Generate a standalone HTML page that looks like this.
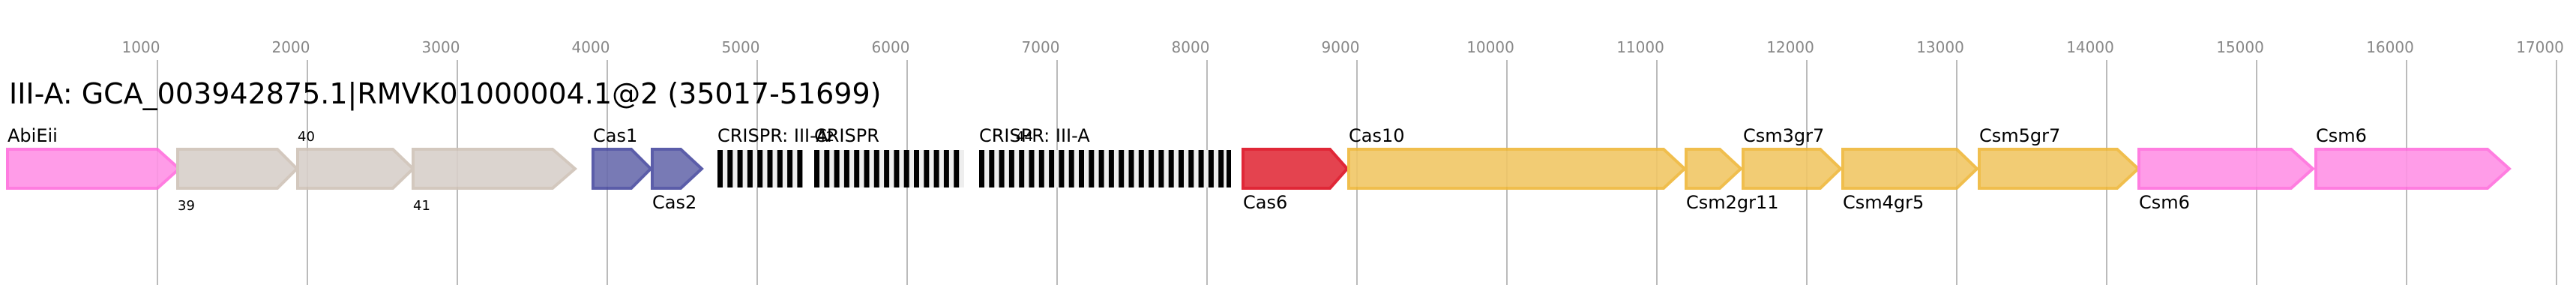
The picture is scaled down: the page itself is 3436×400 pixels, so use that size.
<!DOCTYPE html>
<html><head><meta charset="utf-8"><style>
html,body{margin:0;padding:0;background:#fff;}
svg{display:block;}
text{font-family:"DejaVu Sans","Liberation Sans",sans-serif;}
</style></head><body>
<svg width="3436" height="400" xmlns="http://www.w3.org/2000/svg">
<g stroke="#bbb" stroke-width="2">
<line x1="210" y1="80" x2="210" y2="380"/><line x1="410" y1="80" x2="410" y2="380"/><line x1="610" y1="80" x2="610" y2="380"/><line x1="810" y1="80" x2="810" y2="380"/><line x1="1010" y1="80" x2="1010" y2="380"/><line x1="1210" y1="80" x2="1210" y2="380"/><line x1="1410" y1="80" x2="1410" y2="380"/><line x1="1610" y1="80" x2="1610" y2="380"/><line x1="1810" y1="80" x2="1810" y2="380"/><line x1="2010" y1="80" x2="2010" y2="380"/><line x1="2210" y1="80" x2="2210" y2="380"/><line x1="2410" y1="80" x2="2410" y2="380"/><line x1="2610" y1="80" x2="2610" y2="380"/><line x1="2810" y1="80" x2="2810" y2="380"/><line x1="3010" y1="80" x2="3010" y2="380"/><line x1="3210" y1="80" x2="3210" y2="380"/><line x1="3410" y1="80" x2="3410" y2="380"/>
</g>
<g fill="#888" font-size="20" text-anchor="middle">
<text x="188" y="70">1000</text><text x="388" y="70">2000</text><text x="588" y="70">3000</text><text x="788" y="70">4000</text><text x="988" y="70">5000</text><text x="1188" y="70">6000</text><text x="1388" y="70">7000</text><text x="1588" y="70">8000</text><text x="1788" y="70">9000</text><text x="1988" y="70">10000</text><text x="2188" y="70">11000</text><text x="2388" y="70">12000</text><text x="2588" y="70">13000</text><text x="2788" y="70">14000</text><text x="2988" y="70">15000</text><text x="3188" y="70">16000</text><text x="3388" y="70">17000</text>
</g>
<text x="12" y="138" font-size="38" fill="#000">III-A: GCA_003942875.1|RMVK01000004.1@2 (35017-51699)</text>
<g stroke-width="4" opacity="0.9">
<polygon points="10,199 210,199 239,225 210,251 10,251" fill="#ff92e6" stroke="#ff70dd"/>
<polygon points="237,199 370,199 396,225 370,251 237,251" fill="#d8d0ca" stroke="#cfc3b8"/>
<polygon points="397,199 524,199 551,225 524,251 397,251" fill="#d8d0ca" stroke="#cfc3b8"/>
<polygon points="551,199 737,199 767,225 737,251 551,251" fill="#d8d0ca" stroke="#cfc3b8"/>
<polygon points="791,199 842,199 868,225 842,251 791,251" fill="#6a6cad" stroke="#4a4ca0"/>
<polygon points="870,199 908,199 936,225 908,251 870,251" fill="#6a6cad" stroke="#4a4ca0"/>
<polygon points="1658,199 1774,199 1797,225 1774,251 1658,251" fill="#e22f3d" stroke="#dd1022"/>
<polygon points="1799,199 2219,199 2247,225 2219,251 1799,251" fill="#f1c766" stroke="#efb83a"/>
<polygon points="2249,199 2294,199 2322,225 2294,251 2249,251" fill="#f1c766" stroke="#efb83a"/>
<polygon points="2325,199 2428,199 2455,225 2428,251 2325,251" fill="#f1c766" stroke="#efb83a"/>
<polygon points="2458,199 2610,199 2637,225 2610,251 2458,251" fill="#f1c766" stroke="#efb83a"/>
<polygon points="2640,199 2824,199 2852,225 2824,251 2640,251" fill="#f1c766" stroke="#efb83a"/>
<polygon points="2853,199 3056,199 3085,225 3056,251 2853,251" fill="#ff92e6" stroke="#ff70dd"/>
<polygon points="3089,199 3318,199 3347,225 3318,251 3089,251" fill="#ff92e6" stroke="#ff70dd"/>
</g>
<g fill="#eee"><rect x="957" y="200" width="112" height="50"/><rect x="1086" y="200" width="200" height="50"/><rect x="1306" y="200" width="336" height="50"/></g>
<g fill="#000">
<rect x="957" y="200" width="7" height="50"/><rect x="970.3" y="200" width="7" height="50"/><rect x="983.6" y="200" width="7" height="50"/><rect x="996.9" y="200" width="7" height="50"/><rect x="1010.2" y="200" width="7" height="50"/><rect x="1023.5" y="200" width="7" height="50"/><rect x="1036.8" y="200" width="7" height="50"/><rect x="1050.1" y="200" width="7" height="50"/><rect x="1063.4" y="200" width="7" height="50"/>
<rect x="1086" y="200" width="7" height="50"/><rect x="1099.3" y="200" width="7" height="50"/><rect x="1112.6" y="200" width="7" height="50"/><rect x="1125.9" y="200" width="7" height="50"/><rect x="1139.2" y="200" width="7" height="50"/><rect x="1152.5" y="200" width="7" height="50"/><rect x="1165.8" y="200" width="7" height="50"/><rect x="1179.1" y="200" width="7" height="50"/><rect x="1192.4" y="200" width="7" height="50"/><rect x="1205.7" y="200" width="7" height="50"/><rect x="1219" y="200" width="7" height="50"/><rect x="1232.3" y="200" width="7" height="50"/><rect x="1245.6" y="200" width="7" height="50"/><rect x="1258.9" y="200" width="7" height="50"/><rect x="1272.2" y="200" width="7" height="50"/>
<rect x="1306" y="200" width="7" height="50"/><rect x="1319.3" y="200" width="7" height="50"/><rect x="1332.6" y="200" width="7" height="50"/><rect x="1345.9" y="200" width="7" height="50"/><rect x="1359.2" y="200" width="7" height="50"/><rect x="1372.5" y="200" width="7" height="50"/><rect x="1385.8" y="200" width="7" height="50"/><rect x="1399.1" y="200" width="7" height="50"/><rect x="1412.4" y="200" width="7" height="50"/><rect x="1425.7" y="200" width="7" height="50"/><rect x="1439" y="200" width="7" height="50"/><rect x="1452.3" y="200" width="7" height="50"/><rect x="1465.6" y="200" width="7" height="50"/><rect x="1478.9" y="200" width="7" height="50"/><rect x="1492.2" y="200" width="7" height="50"/><rect x="1505.5" y="200" width="7" height="50"/><rect x="1518.8" y="200" width="7" height="50"/><rect x="1532.1" y="200" width="7" height="50"/><rect x="1545.4" y="200" width="7" height="50"/><rect x="1558.7" y="200" width="7" height="50"/><rect x="1572" y="200" width="7" height="50"/><rect x="1585.3" y="200" width="7" height="50"/><rect x="1598.6" y="200" width="7" height="50"/><rect x="1611.9" y="200" width="7" height="50"/><rect x="1625.2" y="200" width="7" height="50"/><rect x="1636" y="200" width="6" height="50"/>
</g>
<g fill="#000" font-size="24">
<text x="10" y="189">AbiEii</text>
<text x="791" y="189">Cas1</text>
<text x="957" y="189">CRISPR: III-A</text>
<text x="1086" y="189">CRISPR</text>
<text x="1306" y="189">CRISPR: III-A</text>
<text x="1799" y="189">Cas10</text>
<text x="2325" y="189">Csm3gr7</text>
<text x="2640" y="189">Csm5gr7</text>
<text x="3089" y="189">Csm6</text>
<text x="870" y="278">Cas2</text>
<text x="1658" y="278">Cas6</text>
<text x="2249" y="278">Csm2gr11</text>
<text x="2458" y="278">Csm4gr5</text>
<text x="2853" y="278">Csm6</text>
</g>
<g fill="#000" font-size="18">
<text x="397" y="188">40</text>
<text x="1355" y="188">44</text>
<text x="1090" y="188">42</text>
<text x="237" y="280">39</text>
<text x="551" y="280">41</text>
</g>
</svg>
</body></html>
